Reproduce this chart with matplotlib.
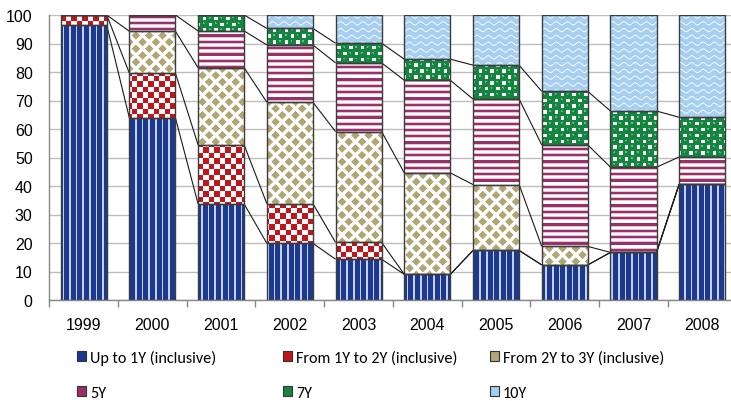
import numpy as np
import matplotlib
matplotlib.use("Agg")
import matplotlib.pyplot as plt
from matplotlib.path import Path
from matplotlib.patches import Rectangle
from matplotlib.colors import to_rgb

# ---------------- data ----------------
years = ["1999", "2000", "2001", "2002", "2003", "2004", "2005", "2006", "2007", "2008"]
series_names = ["Up to 1Y (inclusive)", "From 1Y to 2Y (inclusive)", "From 2Y to 3Y (inclusive)",
                "5Y", "7Y", "10Y"]
up_to_1y = [96.5, 63.9, 33.7, 19.9, 14.3, 9.0, 17.4, 12.3, 16.7, 40.7]
from_1y_2y = [3.5, 15.7, 20.7, 13.9, 5.9, 0.0, 0.0, 0.0, 0.0, 0.0]
from_2y_3y = [0.0, 14.7, 27.1, 35.6, 38.9, 35.6, 23.1, 6.5, 0.0, 0.0]
y5 = [0.0, 5.7, 12.9, 20.1, 24.1, 32.5, 30.0, 35.6, 29.9, 9.5]
y7 = [0.0, 0.0, 5.6, 5.8, 6.9, 7.4, 11.9, 18.8, 19.7, 13.9]
y10 = [0.0, 0.0, 0.0, 4.7, 9.9, 15.5, 17.6, 26.8, 33.7, 35.9]
yticks = [0, 10, 20, 30, 40, 50, 60, 70, 80, 90, 100]

series = [up_to_1y, from_1y_2y, from_2y_3y, y5, y7, y10]
main_colors = ["#1B3A8F", "#C0151B", "#B0A673", "#98306A", "#13853F", "#A6CFF2"]

# ---------------- figure ----------------
W_FIG, H_FIG, DPI = 731, 402, 100
fig = plt.figure(figsize=(W_FIG / DPI, H_FIG / DPI), dpi=DPI)
ax_left, ax_right, ax_top, ax_bottom = 49.3, 736.6, 16.0, 301.0
ax = fig.add_axes([ax_left / W_FIG, (H_FIG - ax_bottom) / H_FIG,
                   (ax_right - ax_left) / W_FIG, (ax_bottom - ax_top) / H_FIG])
AXW = int(round(ax_right - ax_left))
AXH = int(round(ax_bottom - ax_top))

n = len(years)
x = np.arange(n)
bar_w = 0.67
XL = (-0.5, n - 0.5)
YL = (0, 100)

# ---------------- textures (pixel space) ----------------
yy, xx = np.indices((AXH, AXW)).astype(float)


def blend(base, other, t):
    base = np.array(to_rgb(base))
    other = np.array(to_rgb(other))
    t = np.clip(t, 0, 1)[..., None]
    return base * (1 - t) + other * t


def tex_stripes_v():
    P = 6.6
    ph = xx % P
    t = np.where(ph < 1.6, 1.0, 0.0)
    return blend("#1B3A8F", "#C9D0EE", t)


def tex_checker():
    s = 5.5
    c = ((np.floor(xx / s) + np.floor(yy / s)) % 2)
    return blend("#C0151B", "#FFFFFF", c)


def tex_diamonds():
    P = 13.3
    dx = (xx / P) % 1 - 0.5
    dy = (yy / P) % 1 - 0.5
    d1 = np.abs(dx) + np.abs(dy)
    d = np.minimum(d1, 1 - d1)
    t = np.clip((0.32 - d) / 0.08 + 0.5, 0, 1)
    return blend("#FFFFFF", "#B0A673", t)


def tex_stripes_h():
    P = 6.3
    ph = yy % P
    img = blend("#FFFFFF", "#98306A", (ph < 2.3).astype(float))
    pink = ((ph >= 2.3) & (ph < 3.2)) | (ph >= 5.5)
    img[pink] = to_rgb("#E6BFD3")
    return img


def tex_green():
    P = 11.7
    h = P / 2
    cx = (xx % h) / h - 0.5
    cy = (yy % h) / h - 0.5
    cell = (np.floor(xx / h) + np.floor(yy / h)) % 2
    white_sq = (cell == 0) & (np.abs(cx) < 0.3) & (np.abs(cy) < 0.3)
    img = np.empty((AXH, AXW, 3))
    img[:] = to_rgb("#13853F")
    hl = (cell == 1) & (np.hypot(cx + 0.12, cy + 0.15) < 0.17)
    img[hl] = to_rgb("#6CBB87")
    img[white_sq] = to_rgb("#FFFFFF")
    return img


def tex_waves():
    lam, Pv, A = 11.3, 6.8, 1.6
    d = (yy - A * np.sin(2 * np.pi * xx / lam)) % Pv
    t = np.clip(1.0 - np.abs(d - 1.0) / 1.1, 0, 1)
    return blend("#A6CFF2", "#FFFFFF", t * 0.95)


textures = [tex_stripes_v(), tex_checker(), tex_diamonds(), tex_stripes_h(), tex_green(), tex_waves()]

# ---------------- bars ----------------
bottom = np.zeros(n)
tops = []
for k, (vals, tex) in enumerate(zip(series, textures)):
    vals = np.asarray(vals, dtype=float)
    bars = ax.bar(x, vals, bar_w, bottom=bottom, facecolor="none",
                  edgecolor="#3C3C3C", linewidth=1.0, zorder=3)
    paths = [b.get_path().transformed(b.get_patch_transform()) for b in bars]
    comp = Path.make_compound_path(*paths)
    im = ax.imshow(tex, extent=(XL[0], XL[1], YL[0], YL[1]), origin="upper",
                   aspect="auto", interpolation="nearest", zorder=2)
    im.set_clip_path(comp, ax.transData)
    bottom = bottom + vals
    tops.append(bottom.copy())

# series lines
for cum in tops:
    for i in range(n - 1):
        if cum[i] >= 99.95 and cum[i + 1] >= 99.95:
            continue
        ax.plot([x[i] + bar_w / 2, x[i + 1] - bar_w / 2], [cum[i], cum[i + 1]],
                color="#1A1A1A", lw=0.8, zorder=2.5, solid_capstyle="butt")

ax.set_xlim(*XL)
ax.set_ylim(*YL)

# ---------------- axes styling ----------------
ax.set_yticks(yticks)
ax.set_yticklabels([str(v) for v in yticks], fontsize=11.5, family="Liberation Sans")
ax.tick_params(axis="y", length=0, pad=12)
ax.yaxis.grid(True, color="#BDBDBD", lw=1.0, zorder=0)
ax.set_axisbelow(True)

ax.set_xticks(np.arange(n + 1) - 0.5)
ax.set_xticklabels([])
ax.set_xticks(x, minor=True)
ax.set_xticklabels(years, minor=True, fontsize=11.5, family="Liberation Sans")
ax.tick_params(axis="x", which="major", length=5, width=1, color="#868686", direction="out")
ax.tick_params(axis="x", which="minor", length=0, pad=12)

for s in ["top", "right"]:
    ax.spines[s].set_visible(False)
ax.spines["left"].set_color("#868686")
ax.spines["bottom"].set_color("#868686")
ax.spines["left"].set_linewidth(1.0)
ax.spines["bottom"].set_linewidth(1.0)

# ---------------- legend (3 columns, 2 rows) ----------------
legend_font = {"family": ["Carlito", "Lato", "DejaVu Sans"], "size": 11.6}
col_x = [77, 283, 490]
row_center = (358.3 + 393.5) / 2
for c in range(3):
    idx = [c, c + 3]
    handles = [Rectangle((0, 0), 1, 1, facecolor=main_colors[i], edgecolor="#333333", lw=0.8) for i in idx]
    labels = [series_names[i] for i in idx]
    fig.legend(handles, labels, loc="center left",
               bbox_to_anchor=(col_x[c] / W_FIG, (H_FIG - row_center) / H_FIG),
               frameon=False, prop=legend_font, ncol=1, borderpad=0, borderaxespad=0,
               handlelength=0.56, handleheight=0.56, handletextpad=0.25, labelspacing=1.3)

fig.savefig("out.png", dpi=DPI)
